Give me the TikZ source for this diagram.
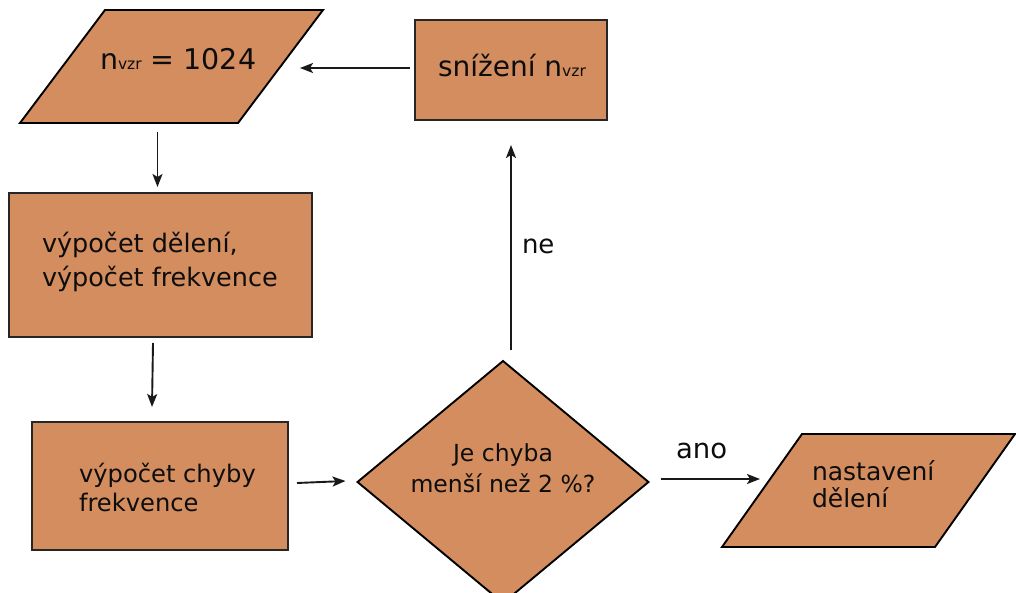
\documentclass[tikz,border=0pt]{standalone}
\usepackage{fontspec}
\setmainfont{DejaVu Sans}
\usetikzlibrary{arrows.meta,calc,shapes.geometric}
\definecolor{boxfill}{HTML}{D38D5F}
\newcommand\fsz[2]{\fontsize{#1}{#2}\selectfont}
\begin{document}
\begin{tikzpicture}[x=1pt,y=-1pt,
  shapebase/.style={draw=black,line width=1.9pt,fill=boxfill,inner sep=0pt,outer sep=0pt},
  procbox/.style={shapebase,rectangle,draw=black!85,line width=1.7pt},
  frame/.style={rectangle,inner sep=0pt,outer sep=0pt},
  decision/.style={shapebase,diamond},
  txt/.style={inner sep=0pt,outer sep=0pt,anchor=base west,text=black!95},
  arr/.style={-{Stealth[length=13pt,width=10pt,inset=3pt]},line width=1.9pt,draw=black!90}
]
\useasboundingbox (0,0) rectangle (1016,593);

% input/output parallelograms: a frame node, then the slanted outline
\node[frame,minimum width=303pt,minimum height=113pt] (p1) at (171.5,66.5) {};
\filldraw[shapebase] (p1.south west) -- ([xshift=85pt]p1.north west)
  -- (p1.north east) -- ([xshift=-85pt]p1.south east) -- cycle;
\node[frame,minimum width=293pt,minimum height=113pt] (p2) at (868.5,490.5) {};
\filldraw[shapebase] (p2.south west) -- ([xshift=80pt]p2.north west)
  -- (p2.north east) -- ([xshift=-80pt]p2.south east) -- cycle;

% process boxes and the decision
\node[procbox,minimum width=192pt,minimum height=100pt] (sn) at (511,70) {};
\node[procbox,minimum width=303pt,minimum height=144pt] (b2) at (160.5,265) {};
\node[procbox,minimum width=256pt,minimum height=128pt] (b3) at (160,486) {};
\node[decision,minimum width=291pt,minimum height=242pt] (dia) at (503,482) {};

% texts (multi-line nodes sit on the baseline of their last line)
\node[txt] (p1t) at (100,70) {\fsz{28.5}{34}n{\fsz{15.5}{16}vzr} = 1024};
\node[txt] (snt) at (438,77) {\fsz{28}{34}snížení n{\fsz{15.5}{16}vzr}};
\node[txt,align=left,font=\fsz{25.5}{34}] (b2t) at (42,287) {výpočet dělení,\\výpočet frekvence};
\node[txt,align=left,font=\fsz{24.2}{29}] (b3t) at (79,511) {výpočet chyby\\frekvence};
\node[txt,anchor=base,align=center,font=\fsz{23.5}{31}] (diat) at (503,492) {Je chyba\\menší než 2 \%?};
\node[txt,align=left,font=\fsz{25}{27}] (p2t) at (812,507) {nastavení\\dělení};

% connectors
\draw[arr] ($(sn.west)+(-5pt,2pt)$) -- ($(sn.west -| p1.east)+(-23pt,2pt)$);
\draw[arr] ($(p1.south -| b2.north)+(-3pt,-9pt)$) -- ($(b2.north)+(-3pt,6pt)$);
\draw[arr] ($(b2.south)+(-7.5pt,-6pt)$) -- ($(b3.north)+(-8pt,15pt)$);
\draw[arr] ($(b3.east)+(9pt,3pt)$) -- ($(dia.west)+(-12pt,1pt)$);
\draw[arr] ($(dia.east)+(12pt,3pt)$) -- ($(p2.west)+(38pt,11.5pt)$);
\draw[arr] ($(dia.north -| sn.south)+(0pt,11pt)$) -- ($(sn.south)+(0pt,-25pt)$);

% branch labels
\node[txt,font=\fsz{26}{30}] (ne) at (522,254) {ne};
\node[txt,font=\fsz{27.5}{32}] (ano) at (676,458) {ano};
\end{tikzpicture}
\end{document}
